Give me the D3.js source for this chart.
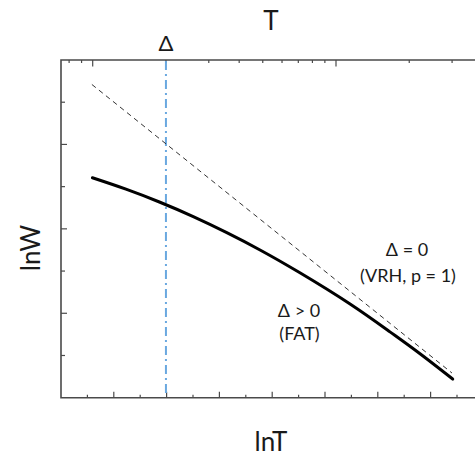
<!DOCTYPE html>
<html>
<head>
<meta charset="utf-8">
<script src="https://cdn.jsdelivr.net/npm/d3@7"></script>
<style>
  html, body { margin: 0; padding: 0; background: #fff; }
  svg { display: block; }
  text { font-family: Lato, "Noto Sans", "DejaVu Sans", sans-serif; fill: #1a1a1a; }
</style>
</head>
<body>
<svg id="chart" width="475" height="457"></svg>
<script>
// ---- data ----
// FAT curve (Δ > 0): x in lnT units (bottom axis), y in lnW units (left axis)
const fatLnT = [1.19, 2.46, 3.75, 5.01, 6.28, 7.54, 9.05, 10.95, 12.46, 13.60, 14.84];
const fatLnW = [5.21, 4.94, 4.63, 4.29, 3.91, 3.50, 2.96, 2.22, 1.56, 1.04, 0.44];
// VRH line (Δ = 0, p = 1)
const vrhLnT = [1.17, 14.81];
const vrhLnW = [7.42, 0.585];
// Δ marker on T axis
const deltaT = [2];
// tick values
const bottomTicks = [1, 2, 3, 4, 5, 6, 7, 8, 9, 10, 11, 12, 13, 14, 15];
const bottomMajor = [2, 4, 6, 8, 10, 12, 14];
const leftTicks = [1, 2, 3, 4, 5, 6, 7];
const leftMajor = [2, 4, 6];
const topTicks = [0.8, 0.9, 1, 2, 3, 4, 5, 6, 7, 8, 9, 10, 20, 30];
const topMajor = [1, 10];
// labels
const titleTop = "T";
const xLabel = "lnT";
const yLabel = "lnW";
const deltaLabel = "Δ";
const vrhLabel = ["Δ = 0", "(VRH, p = 1)"];
const fatLabel = ["Δ > 0", "(FAT)"];

// ---- layout ----
const svg = d3.select("#chart");
const pL = 61, pT = 60, pB = 397.7, pR = 483.4;

const x = d3.scaleLinear().domain([0, 16]).range([pL, pR]);
const y = d3.scaleLinear().domain([0, 8]).range([pB, pT]);
const xT = d3.scaleLog().domain([1, 10]).range([92.7, 336]);

const axisColor = "#4a4a4a";

// frame
svg.append("path")
  .attr("d", `M${pR},${pT}H${pL}V${pB}H${pR}`)
  .attr("fill", "none").attr("stroke", axisColor).attr("stroke-width", 1.6);

// bottom ticks (inward)
svg.append("g").selectAll("line").data(bottomTicks).join("line")
  .attr("x1", d => x(d)).attr("x2", d => x(d))
  .attr("y1", pB).attr("y2", d => pB - (bottomMajor.includes(d) ? 6 : 3))
  .attr("stroke", axisColor).attr("stroke-width", 1.2);

// left ticks (inward)
svg.append("g").selectAll("line").data(leftTicks).join("line")
  .attr("y1", d => y(d)).attr("y2", d => y(d))
  .attr("x1", pL).attr("x2", d => pL + (leftMajor.includes(d) ? 6 : 4))
  .attr("stroke", axisColor).attr("stroke-width", 1.2);

// top ticks (log T, inward)
svg.append("g").selectAll("line").data(topTicks).join("line")
  .attr("x1", d => xT(d)).attr("x2", d => xT(d))
  .attr("y1", pT).attr("y2", d => pT + (topMajor.includes(d) ? 6.5 : 3))
  .attr("stroke", axisColor).attr("stroke-width", 1.2);

// Δ vertical dash-dot line
svg.append("g").selectAll("line").data(deltaT).join("line")
  .attr("x1", d => xT(d)).attr("x2", d => xT(d))
  .attr("y1", pT + 1).attr("y2", pB - 1)
  .attr("stroke", "#6aa8e0").attr("stroke-width", 2)
  .attr("stroke-dasharray", "9,4,2,4");

// VRH dashed line
const line = d3.line().x(d => x(d[0])).y(d => y(d[1]));
svg.append("path")
  .attr("d", line(d3.zip(vrhLnT, vrhLnW)))
  .attr("fill", "none").attr("stroke", "#333").attr("stroke-width", 1)
  .attr("stroke-dasharray", "5,4");

// FAT curve
svg.append("path")
  .attr("d", line.curve(d3.curveNatural)(d3.zip(fatLnT, fatLnW)))
  .attr("fill", "none").attr("stroke", "#000").attr("stroke-width", 3)
  .attr("stroke-linecap", "round");

// text
svg.append("text").attr("x", 271).attr("y", 30).attr("text-anchor", "middle")
  .attr("font-size", 26).text(titleTop);
svg.append("text").attr("x", xT(deltaT[0])).attr("y", 51).attr("text-anchor", "middle")
  .attr("font-size", 22).text(deltaLabel);
svg.append("text").attr("x", 271).attr("y", 451).attr("text-anchor", "middle")
  .attr("font-size", 26).text(xLabel);
svg.append("text").attr("transform", "translate(40,248) rotate(-90)")
  .attr("text-anchor", "middle").attr("font-size", 26).text(yLabel);

svg.append("text").attr("x", 407).attr("y", 256).attr("text-anchor", "middle")
  .attr("font-size", 18).text(vrhLabel[0]);
svg.append("text").attr("x", 408).attr("y", 282).attr("text-anchor", "middle")
  .attr("font-size", 18).text(vrhLabel[1]);
svg.append("text").attr("x", 299).attr("y", 317).attr("text-anchor", "middle")
  .attr("font-size", 18).text(fatLabel[0]);
svg.append("text").attr("x", 299.5).attr("y", 340).attr("text-anchor", "middle")
  .attr("font-size", 18).text(fatLabel[1]);
</script>
</body>
</html>
